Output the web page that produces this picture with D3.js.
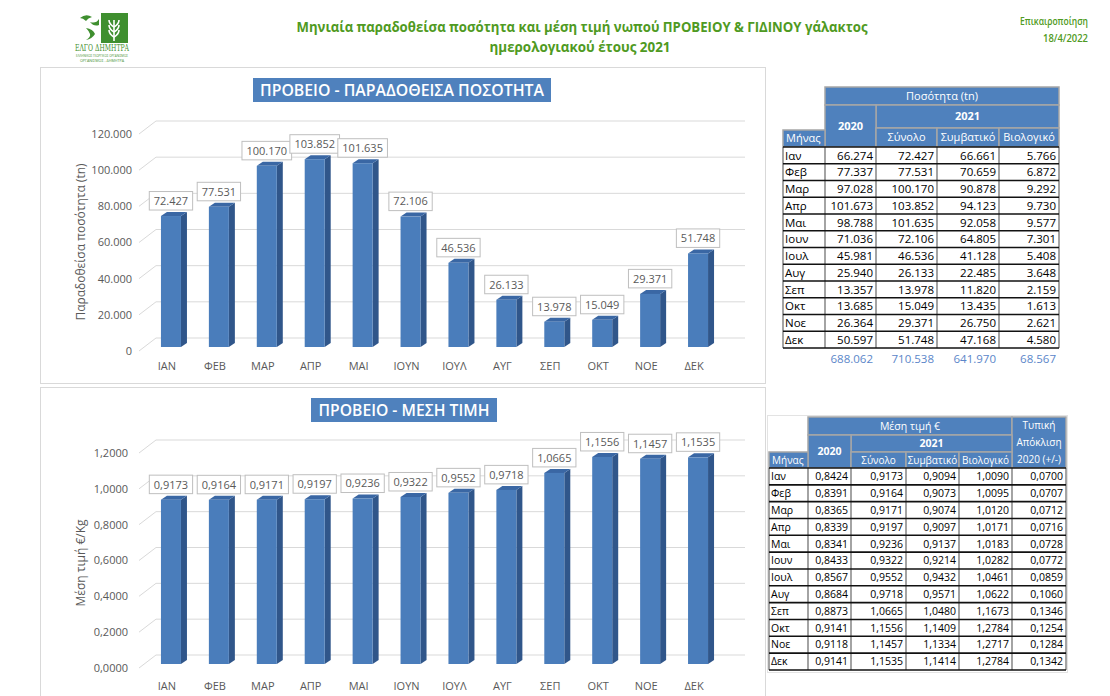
<!DOCTYPE html>
<html>
<head>
<meta charset="utf-8">
<script src="https://cdn.jsdelivr.net/npm/d3@7"></script>
<style>
  body { margin: 0; background: #fff; }
  svg { display: block; }
  text { font-family: "Open Sans", "Noto Sans", sans-serif; }
</style>
</head>
<body>
<svg id="chart" width="1110" height="696"></svg>
<script>
// ---- data ----
const monthCats = ["ΙΑΝ", "ΦΕΒ", "ΜΑΡ", "ΑΠΡ", "ΜΑΙ", "ΙΟΥΝ", "ΙΟΥΛ", "ΑΥΓ", "ΣΕΠ", "ΟΚΤ", "ΝΟΕ", "ΔΕΚ"];
const monthRows = ["Ιαν", "Φεβ", "Μαρ", "Απρ", "Μαι", "Ιουν", "Ιουλ", "Αυγ", "Σεπ", "Οκτ", "Νοε", "Δεκ"];

const qty2020 = [66274, 77337, 97028, 101673, 98788, 71036, 45981, 25940, 13357, 13685, 26364, 50597];
const qtyTotal2021 = [72427, 77531, 100170, 103852, 101635, 72106, 46536, 26133, 13978, 15049, 29371, 51748];
const qtyConv2021 = [66661, 70659, 90878, 94123, 92058, 64805, 41128, 22485, 11820, 13435, 26750, 47168];
const qtyOrg2021 = [5766, 6872, 9292, 9730, 9577, 7301, 5408, 3648, 2159, 1613, 2621, 4580];
const qtyYearTotals = [688062, 710538, 641970, 68567];

const price2020 = [0.8424, 0.8391, 0.8365, 0.8339, 0.8341, 0.8433, 0.8567, 0.8684, 0.8873, 0.9141, 0.9118, 0.9141];
const priceTotal2021 = [0.9173, 0.9164, 0.9171, 0.9197, 0.9236, 0.9322, 0.9552, 0.9718, 1.0665, 1.1556, 1.1457, 1.1535];
const priceConv2021 = [0.9094, 0.9073, 0.9074, 0.9097, 0.9137, 0.9214, 0.9432, 0.9571, 1.0480, 1.1409, 1.1334, 1.1414];
const priceOrg2021 = [1.0090, 1.0095, 1.0120, 1.0171, 1.0183, 1.0282, 1.0461, 1.0622, 1.1673, 1.2784, 1.2717, 1.2784];
const priceSd2020 = [0.0700, 0.0707, 0.0712, 0.0716, 0.0728, 0.0772, 0.0859, 0.1060, 0.1346, 0.1254, 0.1284, 0.1342];

const qtyTicks = [0, 20000, 40000, 60000, 80000, 100000, 120000];
const priceTicks = [0, 0.2, 0.4, 0.6, 0.8, 1.0, 1.2];

// ---- formatting (Greek conventions) ----
const loc = d3.formatLocale({ decimal: ",", thousands: ".", grouping: [3], currency: ["", "€"] });
const fmtQty = loc.format(",d");
const fmtPrice = loc.format(",.4f");

const svg = d3.select("#chart");
const GREEN = "#4f9a22";
const GRAY_TXT = "#595959";
const BLUE = "#4f81bd";

// ---- header: logo ----
const logo = svg.append("g");
logo.append("rect").attr("x", 101).attr("y", 13).attr("width", 27).attr("height", 30).attr("fill", "#3f8f2f");
// wheat ear
const ear = logo.append("g").attr("stroke", "#fff").attr("stroke-width", 1.6).attr("fill", "none");
ear.append("line").attr("x1", 114).attr("y1", 41).attr("x2", 114).attr("y2", 20);
[22, 27, 32].forEach(y => {
  ear.append("path").attr("d", `M114,${y + 5} Q109,${y + 2} 109,${y - 2}`);
  ear.append("path").attr("d", `M114,${y + 5} Q119,${y + 2} 119,${y - 2}`);
});
// profile strokes
const prof = logo.append("g").attr("fill", "#3f8f2f");
prof.append("path").attr("d", "M80,18 q6,-5 12,-1 q-4,1 -6,4 q-3,-3 -6,-3z");
prof.append("path").attr("d", "M90,22 q6,2 9,-3 l0,6 q-5,2 -9,-3z");
prof.append("path").attr("d", "M86,28 q7,1 9,6 q-3,5 -9,6 q5,-3 4,-6 q-1,-3 -4,-6z");
logo.append("text").attr("x", 102).attr("y", 51).attr("text-anchor", "middle")
  .attr("font-size", 8.5).attr("fill", "#3f8f2f").style("font-family", "'DejaVu Serif', serif")
  .attr("textLength", 54).attr("lengthAdjust", "spacingAndGlyphs").text("ΕΛΓΟ ΔΗΜΗΤΡΑ");
logo.append("text").attr("x", 102).attr("y", 57).attr("text-anchor", "middle")
  .attr("font-size", 4).attr("fill", "#3f8f2f")
  .attr("textLength", 52).attr("lengthAdjust", "spacingAndGlyphs").text("ΕΛΛΗΝΙΚΟΣ ΓΕΩΡΓΙΚΟΣ ΟΡΓΑΝΙΣΜΟΣ");
logo.append("text").attr("x", 102).attr("y", 62).attr("text-anchor", "middle")
  .attr("font-size", 4).attr("fill", "#3f8f2f")
  .attr("textLength", 44).attr("lengthAdjust", "spacingAndGlyphs").text("ΟΡΓΑΝΙΣΜΟΣ - ΔΗΜΗΤΡΑ");

// ---- header: title and update date ----
svg.append("text").attr("x", 582).attr("y", 32).attr("text-anchor", "middle")
  .attr("font-size", 14.5).attr("font-weight", "bold").attr("fill", GREEN)
  .attr("textLength", 571).attr("lengthAdjust", "spacingAndGlyphs")
  .text("Μηνιαία παραδοθείσα ποσότητα και μέση τιμή νωπού ΠΡΟΒΕΙΟΥ & ΓΙΔΙΝΟΥ γάλακτος");
svg.append("text").attr("x", 580).attr("y", 52).attr("text-anchor", "middle")
  .attr("font-size", 14.5).attr("font-weight", "bold").attr("fill", GREEN)
  .attr("textLength", 181).attr("lengthAdjust", "spacingAndGlyphs")
  .text("ημερολογιακού έτους 2021");
svg.append("text").attr("x", 1088).attr("y", 25).attr("text-anchor", "end")
  .attr("font-size", 10).attr("font-weight", 600).attr("fill", GREEN)
  .attr("textLength", 68).attr("lengthAdjust", "spacingAndGlyphs").text("Επικαιροποίηση");
svg.append("text").attr("x", 1088).attr("y", 42).attr("text-anchor", "end")
  .attr("font-size", 10).attr("font-weight", 600).attr("fill", GREEN)
  .attr("textLength", 45).attr("lengthAdjust", "spacingAndGlyphs").text("18/4/2022");

// ---- chart panels ----
svg.append("rect").attr("x", 40.5).attr("y", 67.5).attr("width", 725).attr("height", 316)
  .attr("fill", "#fff").attr("stroke", "#d9d9d9");
svg.append("rect").attr("x", 40.5).attr("y", 387.5).attr("width", 725).attr("height", 320)
  .attr("fill", "#fff").attr("stroke", "#d9d9d9");

const x = d3.scaleBand().domain(monthCats).range([143, 718]);

function drawBarChart(cfg) {
  const g = svg.append("g");
  const y = cfg.y;
  const gridX0 = 139, gdx = 17, gdy = -13, gridX1 = 745;

  // back-wall gridlines in perspective
  g.selectAll("path.grid").data(cfg.ticks).join("path")
    .attr("fill", "none").attr("stroke", "#d9d9d9").attr("stroke-width", 1)
    .attr("d", t => `M${gridX0},${y(t)} L${gridX0 + gdx},${y(t) + gdy} L${gridX1},${y(t) + gdy}`);

  // tick labels
  g.selectAll("text.tick").data(cfg.ticks).join("text")
    .attr("x", cfg.tickX).attr("y", t => y(t)).attr("dy", "0.35em")
    .attr("text-anchor", "end").attr("font-size", 11).attr("fill", GRAY_TXT)
    .text(cfg.tickFmt);

  // category labels
  g.selectAll("text.cat").data(monthCats).join("text")
    .attr("x", d => x(d) + x.bandwidth() / 2).attr("y", cfg.catY).attr("dy", "0.35em")
    .attr("text-anchor", "middle").attr("font-size", 11).attr("fill", GRAY_TXT)
    .text(d => d);

  // axis title
  g.append("text")
    .attr("transform", `translate(${cfg.axisTitleX},${cfg.axisTitleY}) rotate(-90)`)
    .attr("text-anchor", "middle").attr("dy", "0.35em")
    .attr("font-size", 12).attr("fill", GRAY_TXT).text(cfg.axisTitle);

  // 3D bars
  const bw = 20, dx = 6, dy = -4, off = -4;
  const bars = g.selectAll("g.bar").data(cfg.values.map((v, i) => ({ v, c: monthCats[i] }))).join("g");
  bars.each(function (d) {
    const b = d3.select(this);
    const cx = x(d.c) + x.bandwidth() / 2 + 4;
    const top = y(d.v) + off, bot = y(0) + off;
    const l = cx - bw / 2, r = cx + bw / 2;
    b.append("polygon").attr("fill", "#30568a")
      .attr("points", `${r},${top} ${r + dx},${top + dy} ${r + dx},${bot + dy} ${r},${bot}`);
    b.append("polygon").attr("fill", "#3a67a4")
      .attr("points", `${l},${top} ${r},${top} ${r + dx},${top + dy} ${l + dx},${top + dy}`);
    b.append("rect").attr("x", l).attr("y", top).attr("width", bw).attr("height", bot - top)
      .attr("fill", "#4a7dbb");

    // value label box
    const lab = b.append("g");
    const t = lab.append("text").attr("x", cx).attr("y", top - 15).attr("dy", "0.35em")
      .attr("text-anchor", "middle").attr("font-size", 11).attr("fill", GRAY_TXT)
      .text(cfg.valFmt(d.v));
    const w = t.node().getComputedTextLength() + 9;
    lab.insert("rect", "text").attr("x", cx - w / 2).attr("y", top - 24.5)
      .attr("width", w).attr("height", 18.5)
      .attr("fill", "#fff").attr("stroke", "#bfbfbf").attr("stroke-width", 1);
  });

  // title badge
  const tb = g.append("g");
  tb.append("rect").attr("x", cfg.titleBox[0]).attr("y", cfg.titleBox[1])
    .attr("width", cfg.titleBox[2]).attr("height", cfg.titleBox[3]).attr("fill", BLUE);
  tb.append("text").attr("x", cfg.titleBox[0] + cfg.titleBox[2] / 2)
    .attr("y", cfg.titleBox[1] + cfg.titleBox[3] / 2).attr("dy", "0.36em")
    .attr("text-anchor", "middle").attr("font-size", 15.5).attr("font-weight", 600).attr("fill", "#fff")
    .attr("textLength", cfg.titleLen).attr("lengthAdjust", "spacingAndGlyphs")
    .text(cfg.title);
}

drawBarChart({
  values: qtyTotal2021,
  y: d3.scaleLinear().domain([0, 120000]).range([351, 134]),
  ticks: qtyTicks,
  tickFmt: fmtQty,
  valFmt: fmtQty,
  tickX: 132,
  catY: 366,
  axisTitle: "Παραδοθείσα ποσότητα (tn)",
  axisTitleX: 81, axisTitleY: 242,
  title: "ΠΡΟΒΕΙΟ - ΠΑΡΑΔΟΘΕΙΣΑ ΠΟΣΟΤΗΤΑ",
  titleBox: [253, 78, 298, 24], titleLen: 284
});

drawBarChart({
  values: priceTotal2021,
  y: d3.scaleLinear().domain([0, 1.2]).range([668, 453]),
  ticks: priceTicks,
  tickFmt: fmtPrice,
  valFmt: fmtPrice,
  tickX: 128,
  catY: 686,
  axisTitle: "Μέση τιμή €/Kg",
  axisTitleX: 81, axisTitleY: 563,
  title: "ΠΡΟΒΕΙΟ - ΜΕΣΗ ΤΙΜΗ",
  titleBox: [311, 398, 186, 24], titleLen: 171
});

// ---- tables ----
function hdrCell(g, x0, y0, x1, y1, lines, opts = {}) {
  g.append("rect").attr("x", x0).attr("y", y0).attr("width", x1 - x0).attr("height", y1 - y0)
    .attr("fill", BLUE).attr("stroke", "#a6a6a6").attr("stroke-width", 1.5);
  const n = lines.length, lh = opts.lh || 17;
  lines.forEach((s, k) => {
    g.append("text")
      .attr("x", opts.left ? x0 + 3 : (x0 + x1) / 2)
      .attr("y", (y0 + y1) / 2 + (k - (n - 1) / 2) * lh).attr("dy", "0.36em")
      .attr("text-anchor", opts.left ? "start" : "middle")
      .attr("font-size", opts.fs || 11).attr("font-weight", opts.bold ? "bold" : "normal")
      .attr("fill", "#fff").text(s);
  });
}

function dataRows(g, cols, y0, rowH, columns, fs) {
  const n = monthRows.length;
  const y1 = y0 + n * rowH;
  g.append("rect").attr("x", cols[0]).attr("y", y0).attr("width", cols[cols.length - 1] - cols[0])
    .attr("height", y1 - y0).attr("fill", "#fff");
  // vertical separators
  g.selectAll(null).data(cols).join("line")
    .attr("x1", c => c).attr("x2", c => c).attr("y1", y0).attr("y2", y1)
    .attr("stroke", "#9a9a9a").attr("stroke-width", 1.8);
  // row rules
  g.selectAll(null).data(d3.range(n + 1)).join("line")
    .attr("x1", cols[0]).attr("x2", cols[cols.length - 1])
    .attr("y1", i => y0 + i * rowH).attr("y2", i => y0 + i * rowH)
    .attr("stroke", "#111").attr("stroke-width", 1.6);
  // cells
  monthRows.forEach((m, i) => {
    const cy = y0 + (i + 0.5) * rowH;
    g.append("text").attr("x", cols[0] + 2).attr("y", cy).attr("dy", "0.36em")
      .attr("font-size", fs).attr("fill", "#000").text(m);
    columns.forEach((col, j) => {
      g.append("text").attr("x", cols[j + 2] - 3).attr("y", cy).attr("dy", "0.36em")
        .attr("text-anchor", "end").attr("font-size", fs).attr("fill", "#000")
        .text(col.fmt(col.values[i]));
    });
  });
}

// quantity table
const tq = svg.append("g");
const qCols = [783, 825, 876, 937, 999, 1059];
hdrCell(tq, 825, 87, 1059, 105, ["Ποσότητα (tn)"]);
hdrCell(tq, 876, 105, 1059, 128, ["2021"], { bold: true });
hdrCell(tq, 825, 105, 876, 147, ["2020"], { bold: true });
hdrCell(tq, 876, 128, 937, 147, ["Σύνολο"]);
hdrCell(tq, 937, 128, 999, 147, ["Συμβατικό"]);
hdrCell(tq, 999, 128, 1059, 147, ["Βιολογικό"]);
hdrCell(tq, 783, 130, 825, 147, ["Μήνας"], { left: true });
dataRows(tq, qCols, 147, 16.75, [
  { values: qty2020, fmt: fmtQty },
  { values: qtyTotal2021, fmt: fmtQty },
  { values: qtyConv2021, fmt: fmtQty },
  { values: qtyOrg2021, fmt: fmtQty }
], 11.5);
qtyYearTotals.forEach((v, j) => {
  tq.append("text").attr("x", qCols[j + 2] - 3).attr("y", 359).attr("dy", "0.36em")
    .attr("text-anchor", "end").attr("font-size", 11.5).attr("fill", "#5b86c9").text(fmtQty(v));
});

// price table
const tp = svg.append("g");
tp.append("rect").attr("x", 767.5).attr("y", 415.5).attr("width", 300).attr("height", 257)
  .attr("fill", "none").attr("stroke", "#e3e3e3");
const pCols = [769, 808, 851, 906, 959, 1012, 1066];
hdrCell(tp, 808, 417, 1012, 435, ["Μέση τιμή €"], { fs: 10.5 });
hdrCell(tp, 1012, 417, 1066, 468, ["Τυπική", "Απόκλιση", "2020 (+/-)"], { fs: 10, lh: 17 });
hdrCell(tp, 851, 435, 1012, 452, ["2021"], { fs: 10.5, bold: true });
hdrCell(tp, 808, 435, 851, 468, ["2020"], { fs: 10.5, bold: true });
hdrCell(tp, 851, 452, 906, 468, ["Σύνολο"], { fs: 10 });
hdrCell(tp, 906, 452, 959, 468, ["Συμβατικό"], { fs: 10 });
hdrCell(tp, 959, 452, 1012, 468, ["Βιολογικό"], { fs: 10 });
hdrCell(tp, 769, 452, 808, 468, ["Μήνας"], { fs: 10, left: true });
dataRows(tp, pCols, 468, 16.83, [
  { values: price2020, fmt: fmtPrice },
  { values: priceTotal2021, fmt: fmtPrice },
  { values: priceConv2021, fmt: fmtPrice },
  { values: priceOrg2021, fmt: fmtPrice },
  { values: priceSd2020, fmt: fmtPrice }
], 10.5);
</script>
</body>
</html>
